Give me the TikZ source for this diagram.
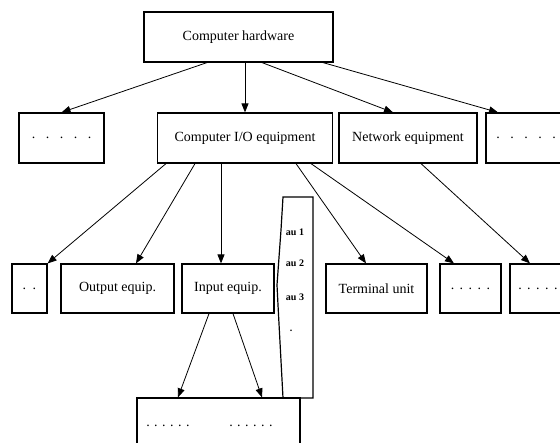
\documentclass[tikz,border=0pt]{standalone}
\usepackage{fontspec}
\setmainfont{Liberation Serif}
\usepackage{tikz}
\usetikzlibrary{arrows.meta}
\tikzstyle{box} = [
	rectangle,
	draw=black,
	line width=1.2pt,
	minimum height=50pt,
	inner sep=0pt,
	text centered,
	font=\fontsize{14}{16}\selectfont
]
\tikzstyle{lbl} = [inner sep=0pt, font=\fontsize{14}{16}\selectfont]
\tikzstyle{tiny} = [inner sep=0pt, font=\fontsize{10}{11}\selectfont\bfseries]
\tikzstyle{arrow} = [line width=0.8pt, -{Triangle[length=9pt,width=7pt]}]
\newcommand{\widedots}{.\hspace{10.5pt}.\hspace{10.5pt}.\hspace{10.5pt}.\hspace{10.5pt}.}
\newcommand{\narrowdots}{.\hspace{5.5pt}.\hspace{5.5pt}.\hspace{5.5pt}.\hspace{5.5pt}.}
\newcommand{\tightdots}{.\hspace{4.5pt}.\hspace{4.5pt}.\hspace{4.5pt}.\hspace{4.5pt}.\hspace{4.5pt}.}
\begin{document}
\begin{tikzpicture}[x=1pt, y=-1pt]
            \useasboundingbox (0,0) rectangle (560,443);
            \clip (0,0) rectangle (560,443);
            % top level
            \node (hw) [box, minimum width=189pt] at (238.5,37) {Computer hardware};
            % second level
            \node (dotsA) [box, minimum width=85pt] at (61.5,138) {\widedots};
            \node (io) [box, minimum width=175pt] at (245,138) {Computer I/O equipment};
            \node (net) [box, minimum width=138pt] at (408,138) {Network equipment};
            \node (dotsB) [box, minimum width=80pt] at (526,138) {\widedots};
            % third level
            \node (dd) [box, minimum width=35pt, minimum height=49pt] at (29.5,288.5) {.\hspace{6.5pt}.};
            \node (out) [box, minimum width=113pt, minimum height=49pt] at (117.5,288.5) {Output equip.};
            \node (inp) [box, minimum width=92pt, minimum height=49pt] at (228,288.5) {Input equip.};
            \node (term) [box, minimum width=101pt, minimum height=49pt] at (376.5,288.5) {Terminal unit};
            \node (dotsC) [box, minimum width=61pt, minimum height=49pt] at (470.5,288.5) {\narrowdots};
            \node (dotsD) [box, minimum width=56pt, minimum height=49pt] at (538,288.5) {\narrowdots};
            % list strip
            \draw [line width=1.2pt] (283,197) -- (313,197) -- (313,398) -- (283,398)
                -- (278,305) -- (277,285) -- (281,230) -- cycle;
            \node (au1) [tiny] at (295,232) {au 1};
            \node (au2) [tiny] at (295,263) {au 2};
            \node (au3) [tiny] at (295,297) {au 3};
            \node (au4) [tiny] at (291,331) {.};
            % fourth level
            \node (sub) [box, minimum width=163pt, minimum height=72pt] at (218.5,434) {};
            \node (subA) [lbl] at (168,426) {\tightdots};
            \node (subB) [lbl] at (251,426) {\tightdots};
            \draw [arrow] ([xshift=-31.5pt]hw.south) -- (dotsA.north);
            \draw [arrow] (hw.south -| io.north) -- (io.north);
            \draw [arrow] ([xshift=23.5pt]hw.south) -- ([xshift=-15pt]net.north);
            \draw [arrow] ([xshift=84.5pt]hw.south) -- ([xshift=-28pt]dotsB.north);
            \draw [arrow] ([xshift=-79pt]io.south) -- (dd.north east);
            \draw [arrow] ([xshift=-50pt]io.south) -- ([xshift=18.5pt]out.north);
            \draw [arrow] ([xshift=-24pt]io.south) -- ([xshift=-7pt]inp.north);
            \draw [arrow] ([xshift=51pt]io.south) -- ([xshift=-10.5pt]term.north);
            \draw [arrow] ([xshift=66pt]io.south) -- ([xshift=-16.5pt]dotsC.north);
            \draw [arrow] ([xshift=13pt]net.south) -- ([xshift=-8pt]dotsD.north);
            \draw [arrow] ([xshift=-19pt]inp.south) -- ([xshift=-40.5pt]sub.north);
            \draw [arrow] ([xshift=5pt]inp.south) -- ([xshift=43.5pt]sub.north);
          \end{tikzpicture}
\end{document}
